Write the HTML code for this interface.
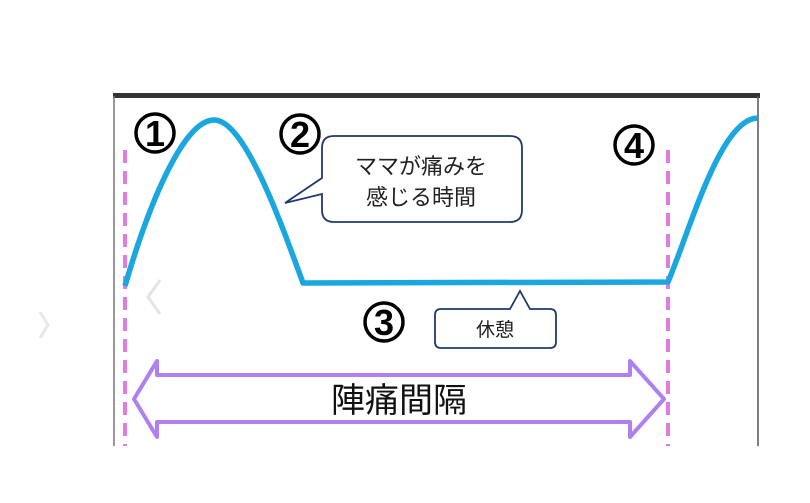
<!DOCTYPE html>
<html><head><meta charset="utf-8"><style>
html,body{margin:0;padding:0;background:#fff;width:810px;height:503px;overflow:hidden}
svg{display:block}
text{font-family:"Liberation Sans","Noto Sans CJK JP",sans-serif}
</style></head><body>
<svg width="810" height="503" viewBox="0 0 810 503">
<rect x="113" y="93" width="647" height="5" fill="#333"/>
<line x1="114" y1="96" x2="114" y2="446" stroke="#777" stroke-width="1.5"/>
<line x1="758" y1="96" x2="758" y2="446" stroke="#555" stroke-width="1.5"/>
<line x1="125" y1="150" x2="125" y2="446" stroke="#e07be6" stroke-width="4" stroke-dasharray="13,8"/>
<line x1="668" y1="150" x2="668" y2="446" stroke="#e07be6" stroke-width="4" stroke-dasharray="13,8"/>
<path d="M125,286 C150,200 185,118 215,120 C245,122 280,220 303,283 L668,282 C690,230 720,120 757,118" fill="none" stroke="#1aa7e0" stroke-width="5.5" stroke-linejoin="round"/>
<path d="M160,280 L148,297 L160,314" fill="none" stroke="#e4e4e4" stroke-width="3"/>
<path d="M40,312 L48,325 L40,338" fill="none" stroke="#e8e8e8" stroke-width="3"/>
<g fill="none" stroke="#000" stroke-width="3.5">
<circle cx="155" cy="133" r="19"/><circle cx="300" cy="134" r="19"/><circle cx="384" cy="322" r="19"/><circle cx="634" cy="145" r="19"/>
</g>
<g font-size="36" font-weight="bold" text-anchor="middle" fill="#000">
<text x="155" y="146">1</text><text x="300" y="147">2</text><text x="384" y="335">3</text><text x="634" y="158">4</text>
</g>
<path d="M334,136 H510 Q522,136 522,148 V210 Q522,222 510,222 H334 Q322,222 322,210 V194 L285,203 L322,178 V148 Q322,136 334,136 Z" fill="#fff" stroke="#1f3a6b" stroke-width="1.8"/>
<text x="421" y="174" font-size="22" text-anchor="middle" fill="#222">ママが痛みを</text>
<text x="421" y="205" font-size="22" text-anchor="middle" fill="#222">感じる時間</text>
<path d="M441,309 H510 L520,291 L530,309 H550 Q556,309 556,315 V342 Q556,348 550,348 H441 Q435,348 435,342 V315 Q435,309 441,309 Z" fill="#fff" stroke="#1f3a6b" stroke-width="1.8"/>
<text x="495" y="336" font-size="19" text-anchor="middle" fill="#222">休憩</text>
<path d="M134,399 L157,361 V375 H630 V361 L664,399 L630,437 V422 H157 V437 Z" fill="#fff" stroke="#b07ff0" stroke-width="4" stroke-linejoin="round"/>
<text x="399" y="412" font-size="34" text-anchor="middle" fill="#111">陣痛間隔</text>
</svg>
</body></html>
